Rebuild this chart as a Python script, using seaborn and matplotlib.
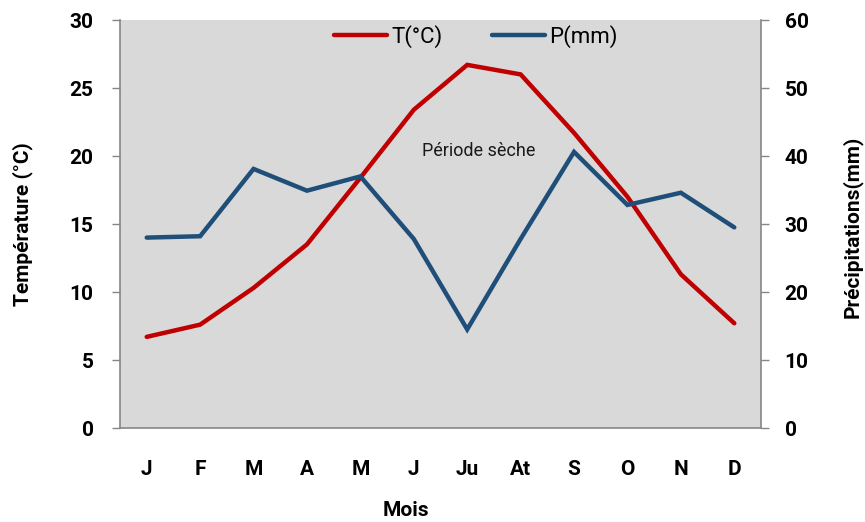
import numpy as np
import pandas as pd
import matplotlib
matplotlib.use("Agg")
import matplotlib.pyplot as plt
import seaborn as sns
from matplotlib.lines import Line2D

months = ["J", "F", "M", "A", "M", "J", "Ju", "At", "S", "O", "N", "D"]
temperature = [6.7, 7.6, 10.3, 13.5, 18.4, 23.4, 26.7, 26.0, 21.7, 17.0, 11.3, 7.7]
precipitation = [28.0, 28.2, 38.1, 34.9, 37.0, 27.8, 14.5, 27.8, 40.6, 32.8, 34.6, 29.5]

sns.set_theme(style="white")
plt.rcParams["font.family"] = ["Roboto", "DejaVu Sans"]
plt.rcParams["text.color"] = "black"
plt.rcParams["axes.labelcolor"] = "black"
plt.rcParams["xtick.labelcolor"] = "black"
plt.rcParams["ytick.labelcolor"] = "black"

df = pd.DataFrame({"idx": np.arange(len(months)), "T": temperature, "P": precipitation})

fig = plt.figure(figsize=(8.65, 5.22), dpi=100)
ax = fig.add_axes([120 / 865, 1 - 428 / 522, 641 / 865, 408 / 522])
ax.set_facecolor("#D9D9D9")
red = "#C00000"
blue = "#1F4E79"
gray = "#868686"
lw = 3.2

sns.lineplot(data=df, x="idx", y="T", ax=ax, color=red, linewidth=lw,
             solid_capstyle="round", solid_joinstyle="miter")
ax2 = ax.twinx()
sns.lineplot(data=df, x="idx", y="P", ax=ax2, color=blue, linewidth=lw,
             solid_capstyle="round", solid_joinstyle="miter")

ax.set_xlim(-0.5, len(months) - 0.5)
ax.set_ylim(0, 30)
ax2.set_ylim(0, 60)
ax.set_yticks(range(0, 31, 5))
ax2.set_yticks(range(0, 61, 10))

fs = 15
ax.set_xticks(np.arange(len(months)))
ax.set_xticklabels(months, fontsize=fs, fontweight="bold")
ax.set_xticks(np.arange(-0.5, len(months), 1), minor=True)
ax.tick_params(axis="x", which="major", length=0, pad=23)
ax.tick_params(axis="x", which="minor", length=6, width=1, color=gray, direction="out")
ax.tick_params(axis="y", length=6, width=1, color=gray, direction="out", pad=13, labelsize=fs)
ax2.tick_params(axis="y", length=6, width=1, color=gray, direction="out", pad=11, labelsize=fs)
for lab in ax.get_yticklabels() + ax2.get_yticklabels():
    lab.set_fontweight("bold")

for a in (ax, ax2):
    a.spines["top"].set_visible(False)
    for s in ("left", "right", "bottom"):
        a.spines[s].set_color(gray)
        a.spines[s].set_linewidth(1.2)
ax2.spines["left"].set_visible(False)
ax2.spines["bottom"].set_visible(False)
ax.spines["right"].set_visible(False)

ax.set_xlabel("Mois", fontsize=fs, fontweight="bold", va="center", ha="center")
ax.xaxis.set_label_coords((406 - 120) / 641, (428 - 511) / 408)
ax.set_ylabel("Température (°C)", fontsize=fs, fontweight="bold", va="center", ha="center")
ax.yaxis.set_label_coords((23 - 120) / 641, (428 - 224) / 408)
ax2.set_ylabel("Précipitations(mm)", fontsize=fs, fontweight="bold", va="center", ha="center")
ax2.yaxis.set_label_coords((852 - 120) / 641, (428 - 227) / 408)

ax.text((479 - 120) / 641, (428 - 151) / 408, "Période sèche", transform=ax.transAxes,
        ha="center", va="center", fontsize=13, color="#1a1a1a")

handles = [Line2D([], [], color=red, linewidth=lw, solid_capstyle="round"),
           Line2D([], [], color=blue, linewidth=lw, solid_capstyle="round")]
ax.legend(handles, ["T(°C)", "P(mm)"], loc="upper center", bbox_to_anchor=((476 - 120) / 641, 1.02),
          ncol=2, frameon=False, fontsize=16, handlelength=2.4, handletextpad=0.2,
          columnspacing=2.2, borderaxespad=0.2, labelcolor="black")

fig.savefig("out.png", dpi=100)
